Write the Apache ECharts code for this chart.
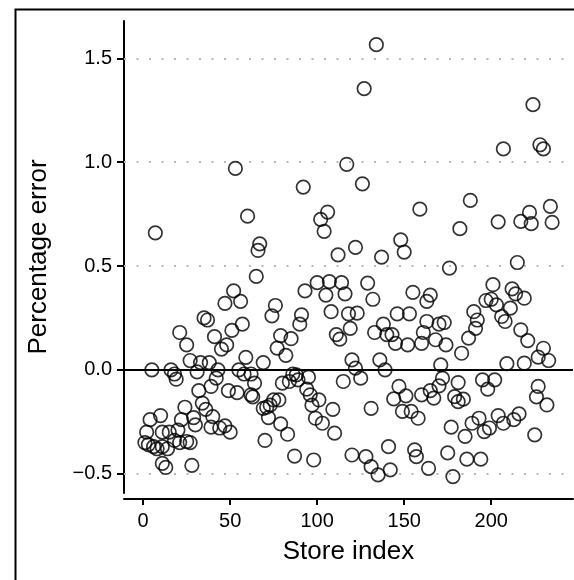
<!DOCTYPE html>
<html>
<head>
<meta charset="utf-8">
<script src="https://cdn.jsdelivr.net/npm/echarts@6/dist/echarts.min.js"></script>
<style>
html,body{margin:0;padding:0;background:#fff;}
#chart{width:574px;height:580px;}
</style>
</head>
<body>
<div id="chart"></div>
<script>
// store index / percentage error
var storeIndex = [
    1,2,3,4,5,6,7,8,10,11,11,11,13,14,15,16,18,18,19,20,21,21,22,24,25,25,27,27,28,29,30,31,32,33,34,35,36,37,38,39,39,
    40,41,42,43,44,45,47,47,48,49,50,51,52,53,54,55,56,57,58,59,60,62,62,63,64,65,66,67,69,69,70,71,72,73,74,75,76,77,
    78,79,79,80,82,83,84,85,86,87,88,89,90,91,92,93,94,95,96,97,98,99,100,101,102,103,104,105,106,107,108,109,110,111,112,113,114,115,116,117,118,119,120,120,122,122,
    123,125,126,127,128,129,131,131,132,133,134,135,136,137,138,139,140,141,142,143,144,145,146,147,148,149,150,151,152,153,154,155,156,157,158,159,160,160,161,163,163,164,165,165,
    167,168,170,170,171,172,173,174,175,176,177,178,179,181,181,182,183,184,185,186,187,188,189,190,191,192,193,194,195,196,197,198,199,200,201,202,203,204,204,206,207,207,208,209,
    211,212,213,214,215,216,217,217,219,219,221,222,223,224,225,226,227,227,228,230,230,232,233,234,235
];
var pctError = [
    -0.35,-0.30,-0.36,-0.24,0.00,-0.37,0.66,-0.38,-0.22,-0.37,-0.45,-0.30,-0.47,-0.38,-0.30,0.00,-0.02,-0.34,-0.045,-0.29,0.18,-0.35,-0.24,-0.18,0.12,-0.345,0.045,-0.35,-0.46,-0.23,-0.265,-0.01,-0.10,0.035,-0.16,0.25,-0.19,0.24,0.035,-0.08,-0.276,
    -0.225,0.16,-0.04,0.00,-0.28,0.10,-0.27,0.32,0.12,-0.10,-0.30,0.19,0.38,0.97,-0.11,0.00,0.33,0.22,-0.02,0.06,0.74,-0.02,-0.12,-0.13,-0.064,0.45,0.575,0.607,-0.185,0.035,-0.34,-0.18,-0.23,-0.17,0.26,-0.145,0.31,0.105,
    -0.145,-0.26,0.165,-0.064,0.07,-0.31,-0.056,0.15,-0.02,-0.415,-0.024,-0.048,0.22,0.265,0.88,0.38,-0.093,-0.035,-0.12,-0.17,-0.434,-0.233,0.42,-0.145,0.725,-0.257,0.667,0.36,0.76,0.425,0.28,-0.19,-0.305,0.17,0.554,0.148,0.42,-0.056,0.366,0.99,0.27,0.20,0.048,-0.41,0.008,0.59,
    0.273,-0.04,0.896,1.354,-0.418,0.418,-0.466,-0.185,0.34,0.18,1.566,-0.506,0.048,0.543,0.22,0.00,0.17,-0.37,-0.482,0.17,-0.14,0.128,0.27,-0.08,0.626,-0.20,0.567,-0.125,0.12,0.27,-0.20,0.373,-0.385,-0.418,-0.233,0.774,-0.12,0.128,0.18,0.33,0.233,-0.474,-0.10,0.36,
    -0.136,0.145,0.22,-0.077,0.024,-0.04,0.228,0.12,-0.40,0.49,-0.276,-0.514,-0.129,-0.061,-0.153,0.68,0.08,-0.141,-0.32,-0.43,0.153,0.816,-0.257,0.28,0.20,0.24,-0.233,-0.43,-0.048,-0.297,0.334,-0.093,-0.28,0.34,0.41,-0.048,0.313,-0.22,0.713,0.257,1.064,-0.257,0.233,0.03,
    0.297,0.39,-0.24,0.366,0.517,-0.212,0.715,0.193,0.345,0.032,0.141,0.758,0.704,1.277,-0.313,-0.13,-0.08,0.061,1.084,0.104,1.064,-0.169,0.045,0.787,0.71
];
var xTicks = [0,50,100,150,200];
var yTicks = [-0.5,0,0.5,1,1.5];
var gridValues = [-0.5,0.5,1,1.5];

var points = [];
for(var i=0;i<storeIndex.length;i++){
    points.push([storeIndex[i],pctError[i]]);
}
var refLines = [];
for(var j=0;j<gridValues.length;j++){
    refLines.push({yAxis:gridValues[j],lineStyle:{color:'#b8b8b8',width:2,type:[2,10.5]}});
}
refLines.push({yAxis:0,lineStyle:{color:'#000',width:2,type:'solid'}});

var font = 'Liberation Sans, Arial, sans-serif';
var chart = echarts.init(document.getElementById('chart'));
var option = {
    animation:false,
    grid:{left:124,right:1,top:21,bottom:87},
    graphic:[{
        type:'rect',
        left:13,top:7,
        shape:{width:700,height:700},
        style:{fill:null,stroke:'#000',lineWidth:2},
        silent:true
    }],
    xAxis:{
        type:'value',
        min:-11,max:247,
        offset:6,
        name:'Store index',
        nameLocation:'middle',
        nameGap:40,
        nameTextStyle:{fontFamily:font,fontSize:26,color:'#000'},
        axisLine:{show:true,onZero:false,lineStyle:{color:'#000',width:2}},
        axisTick:{show:true,length:6,customValues:xTicks,lineStyle:{color:'#000',width:2}},
        axisLabel:{customValues:xTicks,margin:12,fontFamily:font,fontSize:20,color:'#000'},
        splitLine:{show:false}
    },
    yAxis:{
        type:'value',
        min:-0.593,max:1.68,
        name:'Percentage error',
        nameLocation:'middle',
        nameGap:72,
        nameTextStyle:{fontFamily:font,fontSize:26,color:'#000'},
        axisLine:{show:true,onZero:false,lineStyle:{color:'#000',width:2}},
        axisTick:{show:true,length:7,customValues:yTicks,lineStyle:{color:'#000',width:2}},
        axisLabel:{
            customValues:yTicks,margin:12,fontFamily:font,fontSize:20,color:'#000',
            formatter:function(v){
                return v < 0 ? '\u2212' + Math.abs(v).toFixed(1) : v.toFixed(1);
            }
        },
        splitLine:{show:false}
    },
    series:[{
        type:'scatter',
        data:points,
        symbol:'circle',
        symbolSize:13.5,
        itemStyle:{color:'rgba(0,0,0,0)',borderColor:'#000',borderWidth:1.7},
        markLine:{
            silent:true,
            symbol:['none','none'],
            label:{show:false},
            z:1,
            data:refLines
        },
        z:3
    }]
};
chart.setOption(option);
</script>
</body>
</html>
